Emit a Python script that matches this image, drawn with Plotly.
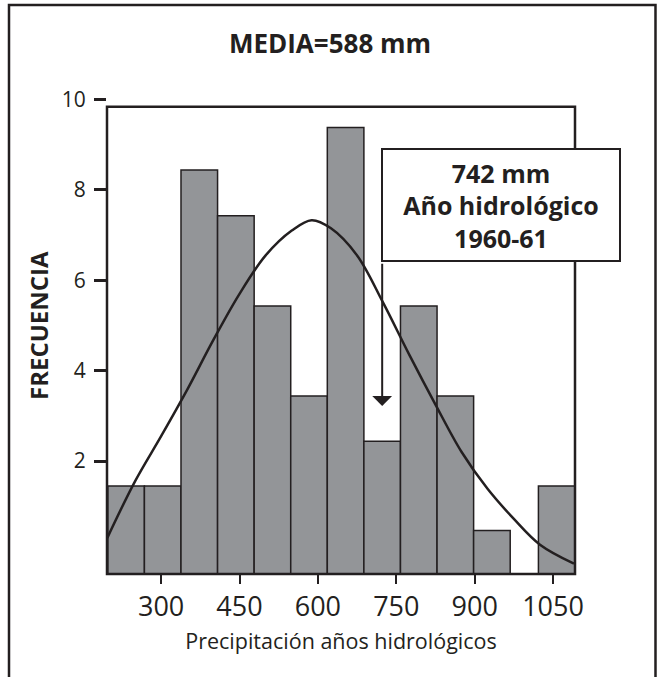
import plotly.graph_objects as go

# ---- data ----
bin_centers = [233, 303, 373, 443, 513, 583, 653, 723, 793, 863, 933, 1057]
bar_tops = [1.45, 1.45, 8.44, 7.43, 5.43, 3.44, 9.38, 2.44, 5.43, 3.44, 0.46, 1.45]
bar_width = 70
bar_base = -0.5

curve_x = [197, 250, 300, 350, 400, 450, 500, 550, 588, 625, 675, 725, 775, 825, 875, 925, 975, 1025, 1090]
curve_y = [0.30, 1.55, 2.55, 3.58, 4.68, 5.70, 6.55, 7.10, 7.33, 7.15, 6.55, 5.50, 4.35, 3.25, 2.20, 1.38, 0.72, 0.15, -0.27]

x_ticks = [300, 450, 600, 750, 900, 1050]
y_ticks = [2, 4, 6, 8, 10]

title_text = "MEDIA=588 mm"
x_title = "Precipitación años hidrológicos"
y_title = "FRECUENCIA"
box_text = "742 mm<br>Año hidrológico<br>1960-61"
box_x, box_y = 950, 7.66
arrow_x, arrow_tail_y, arrow_tip_y = 723, 6.40, 3.22

x_range = [196.4, 1092]
y_range = [-0.5, 10.1]
frame_top = 9.84

INK = "#231f20"
GRAY = "#939598"
FONT = "Open Sans"

fig = go.Figure()
fig.add_trace(go.Bar(
    x=bin_centers,
    y=[t - bar_base for t in bar_tops],
    base=bar_base,
    width=bar_width,
    marker=dict(color=GRAY, line=dict(color=INK, width=1.5)),
    hoverinfo="skip",
))
fig.add_trace(go.Scatter(
    x=curve_x, y=curve_y, mode="lines",
    line=dict(color=INK, width=2.5, shape="spline", smoothing=1.0),
    hoverinfo="skip",
))

frame_top_paper = (frame_top - y_range[0]) / (y_range[1] - y_range[0])
shapes = [
    # plot frame
    dict(type="rect", xref="paper", yref="paper", x0=0, x1=1, y0=0, y1=frame_top_paper,
         line=dict(color=INK, width=2.5), layer="above"),
    # outer figure frame (open at bottom)
    dict(type="rect", xref="paper", yref="paper", x0=-0.2094, x1=1.172, y0=-0.3, y1=1.188,
         line=dict(color=INK, width=2.5), layer="above"),
]

annotations = [
    dict(x=arrow_x, y=arrow_tip_y, ax=arrow_x, ay=arrow_tail_y, xref="x", yref="y",
         axref="x", ayref="y", text="", showarrow=True, arrowhead=1, arrowsize=1.65,
         arrowwidth=2, arrowcolor=INK, standoff=0, startstandoff=0),
    dict(x=box_x, y=box_y, xref="x", yref="y", text="<b>" + box_text + "</b>",
         showarrow=False, xanchor="center", yanchor="middle",
         width=236, height=110, borderwidth=2, borderpad=0, bordercolor=INK,
         bgcolor="white", font=dict(family=FONT, size=25, color=INK), align="center"),
    dict(x=-0.1474, y=0.5177, xref="paper", yref="paper", text="<b>" + y_title + "</b>",
         textangle=-90, showarrow=False, xanchor="center", yanchor="middle",
         font=dict(family=FONT, size=24, color=INK)),
]

fig.update_layout(
    width=660, height=677,
    margin=dict(l=107, r=85, t=95, b=103),
    paper_bgcolor="white", plot_bgcolor="white",
    showlegend=False,
    title=dict(text="<b>" + title_text + "</b>", x=0.5, xref="container", xanchor="center",
               y=1 - 44 / 677, yref="container", yanchor="middle",
               font=dict(family=FONT, size=26, color=INK)),
    shapes=shapes,
    annotations=annotations,
    font=dict(family=FONT, color=INK),
)
fig.update_xaxes(
    range=x_range, tickvals=x_ticks, ticktext=[str(v) for v in x_ticks],
    ticks="outside", ticklen=9, tickwidth=2, tickcolor=INK,
    showline=False, showgrid=False, zeroline=False,
    tickfont=dict(family=FONT, size=27, color=INK),
    title=dict(text=x_title, font=dict(family=FONT, size=21.5, color=INK), standoff=10),
)
fig.update_yaxes(
    range=y_range, tickvals=y_ticks, ticktext=[str(v) for v in y_ticks],
    ticks="outside", ticklen=12, tickwidth=2.5, tickcolor=INK,
    showline=False, showgrid=False, zeroline=False,
    tickfont=dict(family=FONT, size=21, color=INK), ticklabelstandoff=4,
)

fig.write_html(
    "out.html",
    config={"displayModeBar": False},
    post_script="document.body.style.margin='0';document.body.style.overflow='hidden';",
)
